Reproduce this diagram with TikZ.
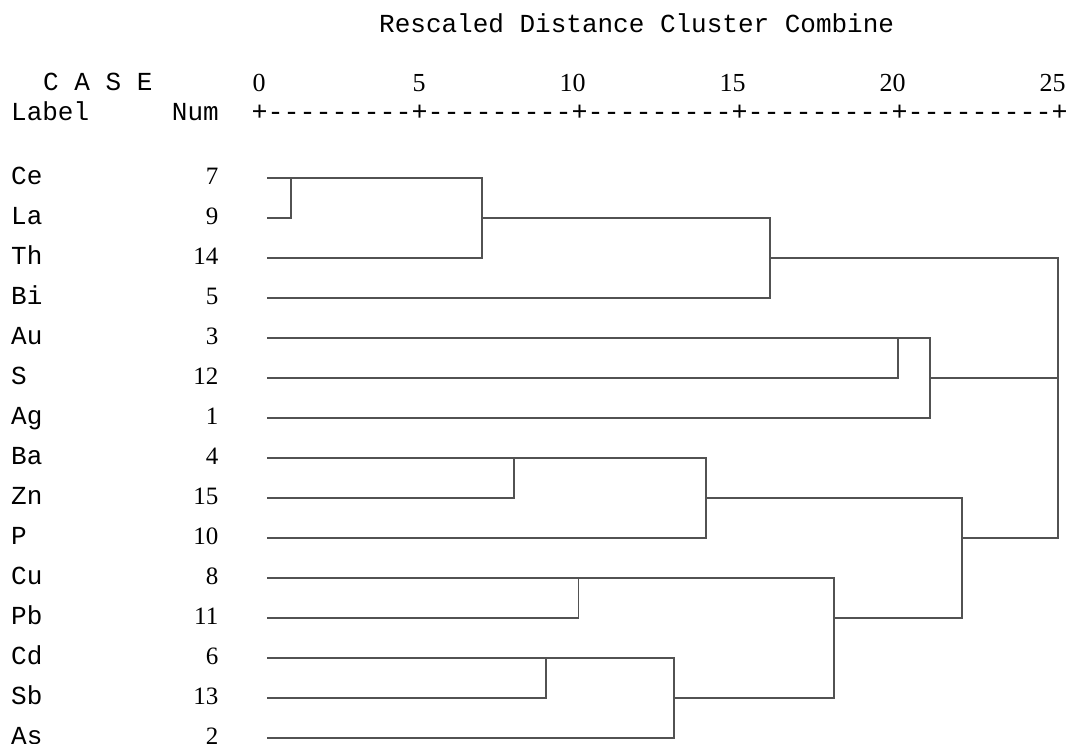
\documentclass[tikz,border=0pt]{standalone}
\usepackage{fontspec}
\setmainfont{Liberation Serif}
\setmonofont{Liberation Mono}
\begin{document}
\begin{tikzpicture}[x=1pt,y=-1pt,
  lbl/.style={font=\ttfamily\fontsize{26}{30}\selectfont, inner sep=0, anchor=base west},
  numtxt/.style={font=\fontsize{25}{30}\selectfont, inner sep=0, anchor=base east},
  axnum/.style={font=\fontsize{26}{30}\selectfont, inner sep=0, anchor=base east},
  link/.style={draw=black!68, line width=1.6pt}]
\useasboundingbox (0,0) rectangle (1066,744);
% title and header
\node[lbl] (title) at (379,32) {Rescaled Distance Cluster Combine};
\node[lbl] (case) at (43,90) {C A S E};
\node[lbl] (label) at (11,120) {Label};
\node[lbl, anchor=base east] (numhead) at (219,120) {Num};
\node[inner sep=0, anchor=base west, font=\ttfamily\fontsize{26.67}{30}\selectfont] (ruler) at (251.3,120) {+---------+---------+---------+---------+---------+};
\foreach \v [count=\k from 0] in {0,5,10,15,20,25}
  \node[axnum] (ax\v) at (259.3+160*\k+6.5,91) {\v};
% rows
\foreach \lab/\n [count=\i from 0] in {Ce/7,La/9,Th/14,Bi/5,Au/3,S/12,Ag/1,Ba/4,Zn/15,P/10,Cu/8,Pb/11,Cd/6,Sb/13,As/2} {
  \node[lbl] (lab\i) at (11,184+40*\i) {\lab};
  \node[numtxt] (num\i) at (218.5,184+40*\i) {\n};
  \coordinate (leaf\i) at (267,178+40*\i);
}
% join points
\coordinate (j1) at (290.7,178);
\coordinate (j2) at (482,218);
\coordinate (j3) at (770,258);
\coordinate (j4) at (898,338);
\coordinate (j5) at (929.7,378);
\coordinate (j6) at (514,458);
\coordinate (j7) at (706,498);
\coordinate (j8) at (578.3,578);
\coordinate (j9) at (546,658);
\coordinate (j10) at (673.7,698);
\coordinate (j11) at (833.7,618);
\coordinate (j12) at (961.7,538);
\coordinate (j13) at (1057.7,378);
% links
\draw[link] (leaf0) -| (j1);
\draw[link] (leaf1) -| (j1);
\draw[link] (j1) -| (j2);
\draw[link] (leaf2) -| (j2);
\draw[link] (j2) -| (j3);
\draw[link] (leaf3) -| (j3);
\draw[link] (j3) -| (j13);
\draw[link] (leaf4) -| (j4);
\draw[link] (leaf5) -| (j4);
\draw[link] (j4) -| (j5);
\draw[link] (leaf6) -| (j5);
\draw[link] (j5) -| (j13);
\draw[link] (leaf7) -| (j6);
\draw[link] (leaf8) -| (j6);
\draw[link] (j6) -| (j7);
\draw[link] (leaf9) -| (j7);
\draw[link] (j7) -| (j12);
\draw[link] (leaf10) -| (j8);
\draw[link] (leaf11) -| (j8);
\draw[link] (j8) -| (j11);
\draw[link] (leaf12) -| (j9);
\draw[link] (leaf13) -| (j9);
\draw[link] (j9) -| (j10);
\draw[link] (leaf14) -| (j10);
\draw[link] (j10) -| (j11);
\draw[link] (j11) -| (j12);
\draw[link] (j12) -| (j13);
\end{tikzpicture}
\end{document}
